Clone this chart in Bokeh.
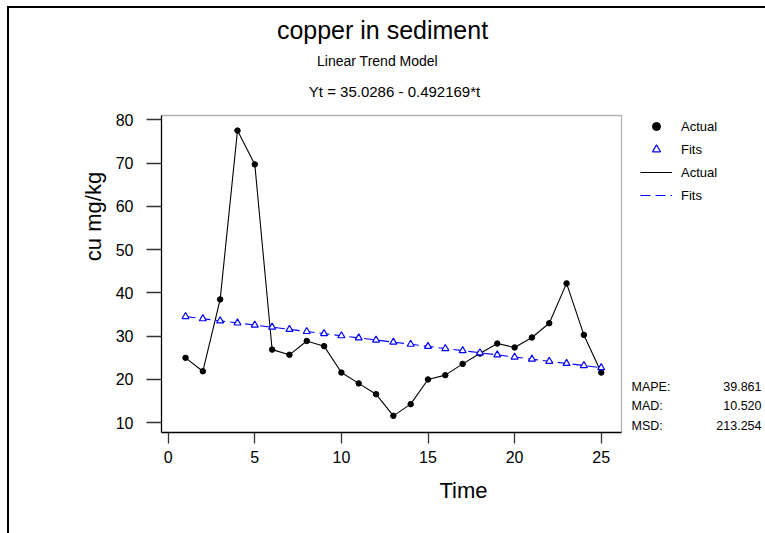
from bokeh.plotting import figure
from bokeh.models import (Label, Legend, LegendItem, Range1d, FixedTicker,
                          BoxAnnotation)
from bokeh.embed import file_html
from bokeh.resources import INLINE

# ---- data ----
time = list(range(1, 26))
actual = [25.0, 21.9, 38.5, 77.5, 69.7, 26.9, 25.7, 28.9, 27.7, 21.6,
          19.1, 16.6, 11.6, 14.3, 20.0, 21.0, 23.6, 26.0, 28.3, 27.4,
          29.7, 33.0, 42.2, 30.3, 21.6]
fits = [34.54, 34.04, 33.55, 33.06, 32.57, 32.08, 31.58, 31.09, 30.60, 30.11,
        29.61, 29.12, 28.63, 28.14, 27.65, 27.15, 26.66, 26.17, 25.68, 25.19,
        24.69, 24.20, 23.71, 23.22, 22.73]
x_ticks = [0, 5, 10, 15, 20, 25]
y_ticks = [10, 20, 30, 40, 50, 60, 70, 80]
title = "copper in sediment"
subtitle = "Linear Trend Model"
equation = "Yt = 35.0286 - 0.492169*t"
stat_names = ["MAPE:", "MAD:", "MSD:"]
stat_values = ["39.861", "10.520", "213.254"]

FONT = "Liberation Sans"
W, H = 765, 533
# frame (drawing area) in page pixels; the visible plot box is 161..621 x 115..432
L, R, T, B = 161, 765, 0, 432
BOX_RIGHT, BOX_TOP = 621, 115


def dx(px):  # page pixel -> time value
    return (px - 167.7) / 17.32


def dy(py):  # page pixel -> cu value
    return 80 - (py - 119.3) / 4.328


p = figure(width=W, height=H, output_backend="svg", toolbar_location=None,
           x_range=Range1d(dx(L), dx(R)), y_range=Range1d(dy(B), dy(T)),
           min_border_left=L, min_border_right=W - R,
           min_border_top=T, min_border_bottom=H - B)
p.title.visible = False
p.grid.visible = False
p.outline_line_color = None
p.background_fill_color = None
p.border_fill_color = None

p.xaxis.ticker = FixedTicker(ticks=x_ticks)
p.yaxis.ticker = FixedTicker(ticks=y_ticks)
p.xaxis.bounds = (dx(L), dx(BOX_RIGHT))
p.yaxis.bounds = (dy(B), dy(BOX_TOP))
for ax in (p.xaxis[0], p.yaxis[0]):
    ax.minor_tick_line_color = None
    ax.major_tick_in = 0
    ax.axis_line_color = "black"
    ax.axis_line_width = 1.3
    ax.major_tick_line_color = "#333333"
    ax.major_tick_line_width = 1.3
    ax.major_label_text_font = FONT
    ax.major_label_text_font_size = "16px"
    ax.major_label_text_color = "black"
    ax.axis_label_text_font = FONT
    ax.axis_label_text_font_size = "22px"
    ax.axis_label_text_font_style = "normal"
    ax.axis_label_text_color = "black"
p.xaxis.major_tick_out = 11
p.yaxis.major_tick_out = 15
p.xaxis.major_label_standoff = 7
p.yaxis.major_label_standoff = 13
p.xaxis.axis_label = "Time"
p.yaxis.axis_label = "cu mg/kg"
p.xaxis.axis_label_standoff = 12
p.yaxis.axis_label_standoff = 7

# top and right edges of the plot box
p.add_layout(BoxAnnotation(left=dx(140), right=dx(BOX_RIGHT),
                           top=dy(BOX_TOP), bottom=dy(450),
                           fill_alpha=0, line_color="black", line_width=1.3))

r_act_line = p.line(time, actual, line_color="black", line_width=1.1)
r_fit_line = p.line(time, fits, line_color="blue", line_width=1.1,
                    line_dash="10 5")
r_act_pts = p.scatter(time, actual, size=5.5, color="black")
r_fit_pts = p.scatter(time, fits, marker="triangle", size=7,
                      line_color="blue", fill_color="white", line_width=1.2)

legend = Legend(items=[
    LegendItem(label="Actual", renderers=[r_act_pts]),
    LegendItem(label="Fits", renderers=[r_fit_pts]),
    LegendItem(label="Actual", renderers=[r_act_line]),
    LegendItem(label="Fits", renderers=[r_fit_line]),
], location=(640 - L, B - 205), border_line_color=None,
    background_fill_alpha=0, padding=0, margin=0, spacing=3,
    glyph_height=20, glyph_width=32, label_height=20, label_standoff=9,
    label_text_font=FONT, label_text_font_size="13px",
    label_text_color="black")
p.add_layout(legend)

# accuracy measures
p.add_layout(Label(x=dx(631), y=dy(379.4), text="\n".join(stat_names),
                   text_align="left", text_baseline="top", text_font=FONT,
                   text_font_size="12.5px", text_color="black",
                   text_line_height=1.38))
p.add_layout(Label(x=dx(761), y=dy(379.4), text="\n".join(stat_values),
                   text_align="right", text_baseline="top", text_font=FONT,
                   text_font_size="12.5px", text_color="black",
                   text_line_height=1.38))

# titles
for txt, cx, base, size in [(title, 382, 29, "25px"),
                            (subtitle, 377, 60.5, "14px"),
                            (equation, 394, 90.5, "15px")]:
    p.add_layout(Label(x=dx(cx), y=dy(base), text=txt, text_align="center",
                       text_baseline="alphabetic", text_font=FONT,
                       text_font_size=size, text_color="black"))

# outer page frame (only its top and left edges are inside the window),
# drawn as the figure element's own background
p.styles = {
    "background-color": "white",
    "background-image": "linear-gradient(black, black), "
                        "linear-gradient(black, black)",
    "background-repeat": "no-repeat",
    "background-position": "7px 6px, 7px 6px",
    "background-size": "2px 100%, 100% 2px",
}

open("out.html", "w").write(file_html(p, INLINE))
